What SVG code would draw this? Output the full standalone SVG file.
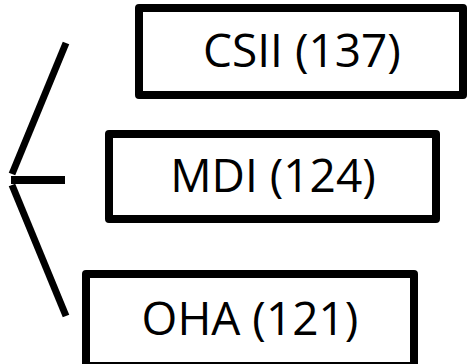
<svg xmlns="http://www.w3.org/2000/svg" width="467" height="364" viewBox="0 0 467 364">
<style>
.box{fill:#fff;stroke:#000;stroke-width:8;stroke-linejoin:round}
.lbl{font-family:"Open Sans","Liberation Sans",sans-serif;font-size:46px;fill:#000;text-anchor:middle}
.ln{stroke:#000;stroke-width:7;fill:none}
</style>
<rect width="467" height="364" fill="#fff"/>
<g id="connectors">
<line class="ln" x1="66" y1="43" x2="12" y2="174"/>
<line class="ln" x1="11" y1="180" x2="65" y2="180" style="stroke-width:8"/>
<line class="ln" x1="12" y1="185" x2="66" y2="316"/>
</g>
<g id="csii">
<rect class="box" x="139" y="8" width="324" height="87"/>
<text class="lbl" x="302" y="67">CSII (137)</text>
</g>
<g id="mdi">
<rect class="box" x="109" y="134" width="327" height="85"/>
<text class="lbl" x="273" y="192">MDI (124)</text>
</g>
<g id="oha">
<rect class="box" x="86" y="274" width="328" height="92"/>
<text class="lbl" x="250" y="335">OHA (121)</text>
</g>
</svg>
